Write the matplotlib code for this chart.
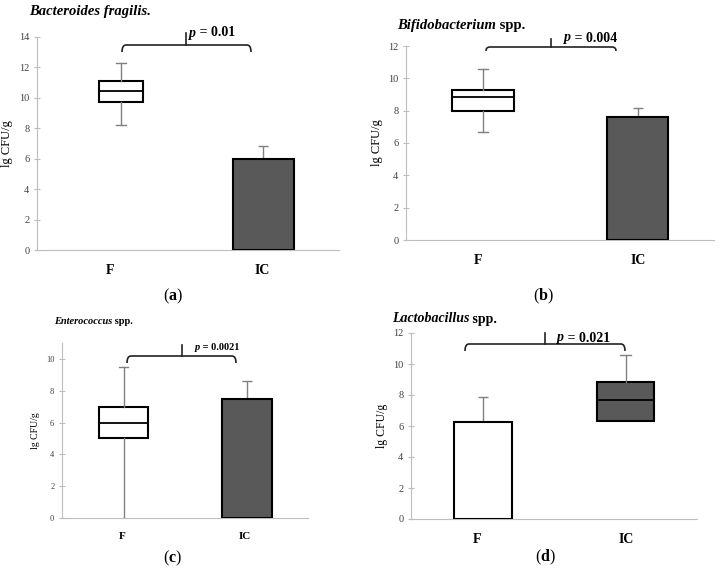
import matplotlib
matplotlib.use("Agg")
import matplotlib.pyplot as plt
from matplotlib.path import Path
from matplotlib.patches import PathPatch

plt.rcParams['font.family'] = ['Liberation Serif', 'DejaVu Serif']
plt.rcParams['mathtext.fontset'] = 'custom'
plt.rcParams['mathtext.rm'] = 'Liberation Serif'
plt.rcParams['mathtext.bf'] = 'Liberation Serif:bold'

W, H = 721, 572

groups = ["F", "IC"]

# (a) Bacteroides fragilis: F box, IC bar
a_box = dict(whislo=8.2, q1=9.75, med=10.45, q3=11.1, whishi=12.3)
a_bar = 6.0
a_err = 0.85
a_p = "0.01"

# (b) Bifidobacterium spp.: F box, IC bar
b_box = dict(whislo=6.65, q1=8.0, med=8.85, q3=9.3, whishi=10.55)
b_bar = 7.6
b_err = 0.55
b_p = "0.004"

# (c) Enterococcus spp.: F box, IC bar
c_box = dict(whislo=0.0, q1=5.0, med=6.0, q3=7.0, whishi=9.5)
c_bar = 7.45
c_err = 1.15
c_p = "0.0021"

# (d) Lactobacillus spp.: F bar, IC box
d_bar = 6.25
d_err = 1.6
d_box = dict(whislo=6.3, q1=6.3, med=7.7, q3=8.85, whishi=10.6)
d_p = "0.021"

BAR_COLOR = "#595959"
SPINE = "#bdbdbd"
WHISK = "#808080"


def fx(x):
    return x / W


def fy(y):
    return 1 - y / H


def make_axes(fig, left, right, top, bottom, ymax, ytop, fs, xfs):
    ax = fig.add_axes([fx(left), fy(bottom), (right - left) / W, (bottom - top) / H])
    ax.set_xlim(0, 1)
    ax.set_ylim(0, ymax)
    ax.set_yticks(range(0, ytop + 1, 2))
    for s in ["top", "right"]:
        ax.spines[s].set_visible(False)
    ax.spines["left"].set_color(SPINE)
    ax.spines["bottom"].set_color(SPINE)
    ax.tick_params(axis="y", direction="inout", length=5, color=SPINE,
                   labelsize=fs, labelcolor="#404040", pad=3)
    ax.tick_params(axis="x", length=0, labelsize=xfs, pad=10)
    ax.patch.set_alpha(0)
    return ax


def draw_box(ax, stats, pos, width, face, lowcap=True):
    st = dict(stats)
    st["fliers"] = []
    art = ax.bxp([st], positions=[pos], widths=width, patch_artist=True,
                 showfliers=False, capwidths=0.035,
                 boxprops=dict(facecolor=face, edgecolor="black", linewidth=1.5),
                 medianprops=dict(color="black", linewidth=1.3),
                 whiskerprops=dict(color=WHISK, linewidth=1),
                 capprops=dict(color=WHISK, linewidth=1), zorder=3)
    if not lowcap:
        art["caps"][0].set_visible(False)


def draw_bar(ax, val, err, pos, width, face):
    ax.bar([pos], [val], width=width, color=face, edgecolor="black",
           linewidth=1.5, zorder=3)
    ax.errorbar([pos], [val], yerr=[[0], [err]], fmt="none", ecolor=WHISK,
                elinewidth=1, capsize=3.5, capthick=1, zorder=2)


def bracket(fig, x0, x1, ytop, yend, xm, ytick, ptxt, tx, ty, fs):
    r = 4
    verts = [(x0, yend), (x0, ytop), (x0 + r, ytop),
             (x1 - r, ytop), (x1, ytop), (x1, yend)]
    codes = [Path.MOVETO, Path.CURVE3, Path.CURVE3,
             Path.LINETO, Path.CURVE3, Path.CURVE3]
    verts = [(fx(x), fy(y)) for x, y in verts]
    fig.add_artist(PathPatch(Path(verts, codes), fill=False, edgecolor="#222222",
                             linewidth=1.2, transform=fig.transFigure))
    fig.add_artist(plt.Line2D([fx(xm), fx(xm)], [fy(ytop), fy(ytick)],
                              color="#222222", linewidth=1.2,
                              transform=fig.transFigure))
    t = fig.text(fx(tx), fy(ty), "p", fontsize=fs, style="italic",
                 fontweight="bold", va="center", ha="left")
    fig.canvas.draw()
    bb = t.get_window_extent()
    fig.text(bb.x1 / W, fy(ty), " = " + ptxt, fontsize=fs,
             fontweight="bold", va="center", ha="left")


def title(fig, x, y, ital, rest, fs):
    t = fig.text(fx(x), fy(y), ital, fontsize=fs, style="italic",
                 fontweight="bold", va="center", ha="left")
    if rest:
        fig.canvas.draw()
        bb = t.get_window_extent()
        fig.text(bb.x1 / W, fy(y), " " + rest,
                 fontsize=fs, fontweight="bold", va="center", ha="left")


def panel_label(fig, x, y, letter):
    fig.text(fx(x), fy(y), "(" + r"$\mathbf{" + letter + "}$" + ")",
             fontsize=11.5, ha="center", va="center")


fig = plt.figure(figsize=(W / 100, H / 100), dpi=100)

# panel (a)
ax = make_axes(fig, 37, 339, 37, 250, 14, 14, 7.5, 10)
draw_box(ax, a_box, 0.278, 0.146, "white")
draw_bar(ax, a_bar, a_err, 0.75, 0.2, BAR_COLOR)
ax.set_xticks([0.242, 0.745], groups, fontweight="bold")
ax.set_ylabel("lg CFU/g", fontsize=9, labelpad=4)
bracket(fig, 122, 251, 45, 52, 186, 33, a_p, 189, 33, 10)
title(fig, 29, 12, "Bacteroides fragilis.", "", 10.5)
panel_label(fig, 173, 296, "a")

# panel (b)
ax = make_axes(fig, 406, 714, 46, 240, 12, 12, 7.5, 10)
draw_box(ax, b_box, 0.25, 0.2, "white")
draw_bar(ax, b_bar, b_err, 0.752, 0.198, BAR_COLOR)
ax.set_xticks([0.234, 0.753], groups, fontweight="bold")
ax.set_ylabel("lg CFU/g", fontsize=9, labelpad=4)
bracket(fig, 486, 616, 47, 51, 551, 39, b_p, 564, 38, 10)
title(fig, 397, 25, "Bifidobacterium", "spp.", 10.5)
panel_label(fig, 543, 296, "b")

# panel (c)
ax = make_axes(fig, 62, 308, 343, 518, 11, 10, 6, 8)
draw_box(ax, c_box, 0.25, 0.2, "white", lowcap=False)
draw_bar(ax, c_bar, c_err, 0.752, 0.203, BAR_COLOR)
ax.set_xticks([0.244, 0.744], groups, fontweight="bold")
ax.set_ylabel("lg CFU/g", fontsize=7, labelpad=4)
bracket(fig, 127, 236, 356, 363, 182, 345, c_p, 195, 347, 7.5)
title(fig, 54, 322, "Enterococcus", "spp.", 7.5)
panel_label(fig, 173, 558, "c")

# panel (d)
ax = make_axes(fig, 411, 697, 333, 519, 12, 12, 7.5, 10)
draw_bar(ax, d_bar, d_err, 0.252, 0.203, "white")
draw_box(ax, d_box, 0.75, 0.2, BAR_COLOR, lowcap=False)
ax.set_xticks([0.231, 0.752], groups, fontweight="bold")
ax.set_ylabel("lg CFU/g", fontsize=8.5, labelpad=4)
bracket(fig, 465, 625, 344, 351, 545, 333, d_p, 557, 338, 10)
title(fig, 392, 319, "Lactobacillus", "spp.", 10)
panel_label(fig, 545, 557, "d")

fig.savefig("out.png", dpi=100)
